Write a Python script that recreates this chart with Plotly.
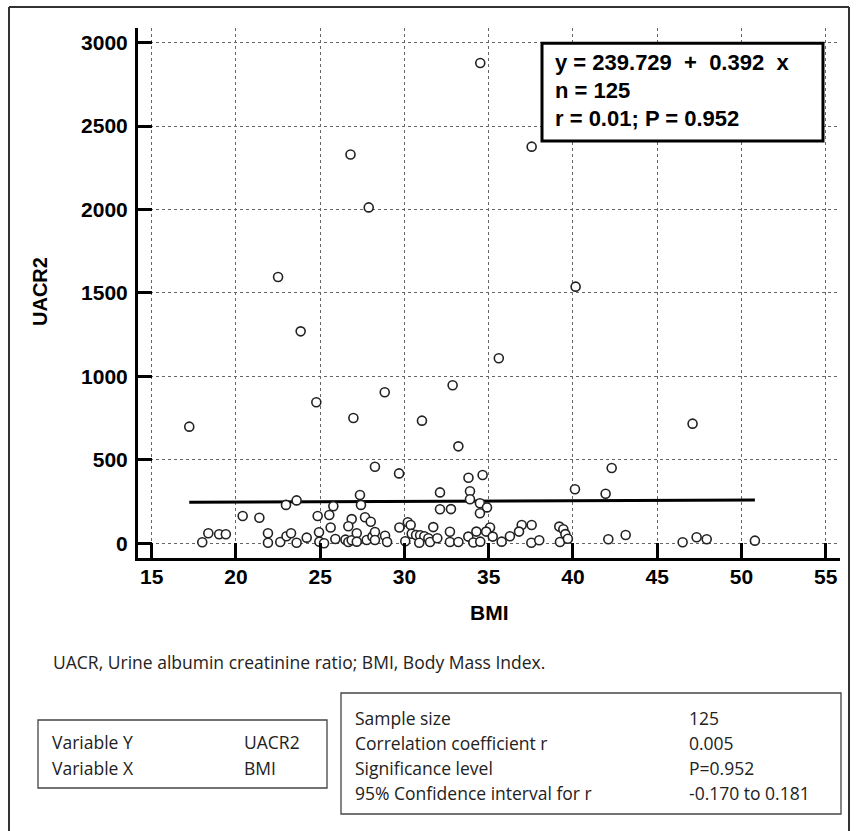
import plotly.graph_objects as go

W, H = 857, 831

# ---- data ----
bmi = [34.5, 37.55, 26.8, 27.88, 22.5, 40.16, 23.84, 35.6, 32.86, 28.83, 24.77, 26.97, 31.04, 47.1, 17.23, 33.2,
       28.25, 42.3, 29.68, 34.64, 33.8, 40.12, 33.89, 32.11, 41.94, 27.36, 33.89, 23.6, 34.48, 22.97, 27.42, 25.78,
       34.9, 32.76, 32.11, 34.48, 25.54, 24.85, 20.4, 27.66, 21.39, 26.87, 28.0, 30.2, 30.37, 36.96, 37.55, 26.67,
       39.19, 35.08, 25.62, 29.7, 31.71, 39.43, 34.85,
       18.0, 18.36, 19.0, 19.4, 21.9, 21.9, 22.63, 23.0, 23.27, 23.6, 24.2, 24.93, 24.95, 25.23, 25.9, 26.5, 26.67,
       26.87, 27.17, 27.17, 27.76, 28.1, 28.25, 28.25, 28.85, 28.97, 30.05, 30.43, 30.69, 30.93, 31.18, 30.88, 31.42,
       31.52, 31.95, 32.7, 32.7, 33.2, 33.79, 34.09, 34.27, 34.5, 35.24, 35.77, 36.26, 36.8, 37.53, 38.0, 39.23,
       39.55, 39.7, 42.1, 43.13, 46.51, 47.34, 47.94, 50.8]
uacr2 = [2878, 2377, 2330, 2013, 1596, 1538, 1270, 1109, 947, 905, 845, 751, 735, 717, 699, 581,
         459, 451, 419, 409, 393, 324, 312, 305, 297, 289, 264, 257, 240, 230, 230, 222,
         215, 205, 204, 180, 170, 164, 164, 156, 153, 145, 129, 126, 110, 110, 110, 102,
         100, 95, 95, 95, 97, 84, 70,
         6, 60, 54, 54, 60, 3, 8, 42, 60, 3, 34, 66, 10, 0, 26, 22, 8,
         18, 60, 10, 20, 40, 68, 20, 45, 8, 12, 57, 50, 48, 42, 3, 30,
         8, 30, 69, 8, 8, 40, 5, 70, 10, 40, 10, 42, 70, 3, 18, 8,
         55, 27, 24, 50, 6, 36, 24, 16]

intercept = 239.729
slope = 0.392

x_ticks = [15, 20, 25, 30, 35, 40, 45, 50, 55]
y_ticks = [0, 500, 1000, 1500, 2000, 2500, 3000]

stats_lines = ["y = 239.729  +  0.392  x", "n = 125", "r = 0.01; P = 0.952"]
caption = "UACR, Urine albumin creatinine ratio; BMI, Body Mass Index."
var_labels = ["Variable Y", "Variable X"]
var_values = ["UACR2", "BMI"]
tab_labels = ["Sample size", "Correlation coefficient r", "Significance level", "95% Confidence interval for r"]
tab_values = ["125", "0.005", "P=0.952", "-0.170 to 0.181"]


def px(x):
    return x / W


def py(y):
    return 1 - y / H


BOLD = dict(family="Liberation Sans, Arial, sans-serif", color="black", weight="bold")
REG = dict(family="Open Sans, sans-serif", color="#222")

fig = go.Figure()

xmin, xmax = min(bmi), max(bmi)
fig.add_trace(go.Scatter(
    x=[xmin, xmax], y=[intercept + slope * xmin, intercept + slope * xmax],
    mode="lines", line=dict(color="black", width=3), hoverinfo="skip", showlegend=False))

fig.add_trace(go.Scatter(
    x=bmi, y=uacr2, mode="markers",
    marker=dict(size=9, color="white", line=dict(color="#222", width=1.6)),
    showlegend=False))

axis_common = dict(
    showline=True, linewidth=3, linecolor="black",
    ticks="inside", tickwidth=3, tickcolor="black",
    showgrid=True, gridcolor="#666", gridwidth=1, griddash="dot",
    zeroline=False, tickfont=dict(size=21, **BOLD),
)

fig.update_layout(
    width=W, height=H,
    margin=dict(l=0, r=0, t=0, b=0),
    paper_bgcolor="white", plot_bgcolor="white",
    xaxis=dict(domain=[px(138), px(840)], range=[14.187, 55.85], tickvals=x_ticks,
               ticklen=15, ticklabelstandoff=-2, **axis_common),
    yaxis=dict(domain=[py(558), py(28)], range=[-88.1, 3088], tickvals=y_ticks,
               ticklen=14, ticklabelstandoff=3, **axis_common),
)

shapes = []
# outer frame (left, top, right)
frame = dict(type="line", xref="paper", yref="paper", line=dict(color="#333", width=2))
shapes.append(dict(frame, x0=px(9), x1=px(9), y0=py(7), y1=py(831)))
shapes.append(dict(frame, x0=px(9), x1=px(849), y0=py(7), y1=py(7)))
shapes.append(dict(frame, x0=px(849), x1=px(849), y0=py(7), y1=py(831)))
# regression stats box
shapes.append(dict(type="rect", xref="paper", yref="paper", x0=px(542), x1=px(823), y0=py(43.3), y1=py(141),
                   line=dict(color="black", width=3), fillcolor="white", layer="above"))
# lower tables
shapes.append(dict(type="rect", xref="paper", yref="paper", x0=px(38), x1=px(327), y0=py(720), y1=py(788),
                   line=dict(color="#444", width=1.3), fillcolor="rgba(0,0,0,0)"))
shapes.append(dict(type="rect", xref="paper", yref="paper", x0=px(341), x1=px(841), y0=py(693), y1=py(814),
                   line=dict(color="#444", width=1.3), fillcolor="rgba(0,0,0,0)"))
fig.update_layout(shapes=shapes)

ann = []


def text(s, x, y, font, xanchor="left", **kw):
    ann.append(dict(text=s, x=px(x), y=py(y), xref="paper", yref="paper", xanchor=xanchor,
                    yanchor="middle", showarrow=False, font=font, **kw))


for i, s in enumerate(stats_lines):
    text(s, 553, 63 + 28 * i, dict(size=22, **BOLD))

text("BMI", 489, 612, dict(size=21, **BOLD), xanchor="center")
text("UACR2", 40, 292, dict(size=20, **BOLD), xanchor="center", textangle=-90)

FS = 17.5
text(caption, 51, 662, dict(size=FS, **REG))
for i, (a, b) in enumerate(zip(var_labels, var_values)):
    text(a, 50, 742 + 26 * i, dict(size=FS, **REG))
    text(b, 242, 742 + 26 * i, dict(size=FS, **REG))
for i, (a, b) in enumerate(zip(tab_labels, tab_values)):
    text(a, 353, 718 + 25 * i, dict(size=FS, **REG))
    text(b, 687, 718 + 25 * i, dict(size=FS, **REG))

fig.update_layout(annotations=ann)

fig.write_html("out.html")
